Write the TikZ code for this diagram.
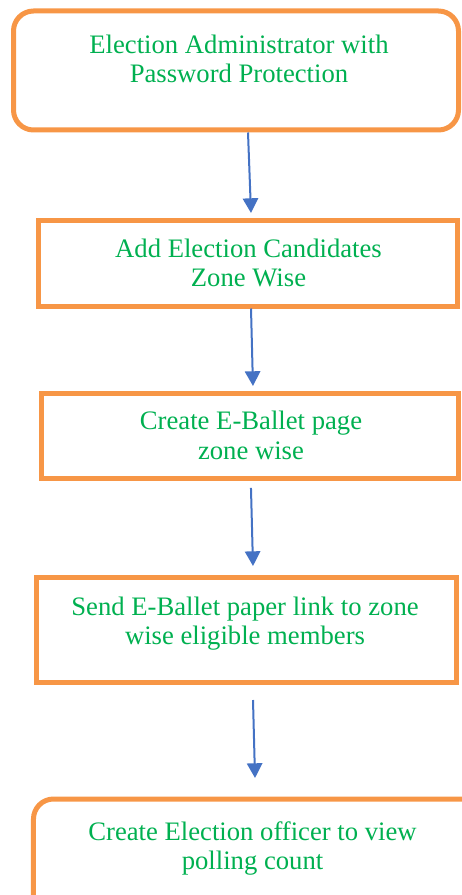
\documentclass[tikz,border=0pt]{standalone}
\usepackage{fontspec}
\setmainfont{Liberation Serif}
\usetikzlibrary{arrows.meta}
\definecolor{boxorange}{HTML}{F79646}
\definecolor{textgreen}{HTML}{00B050}
\definecolor{arrowblue}{HTML}{4472C4}

\begin{document}
\begin{tikzpicture}[x=0.75pt,y=-0.75pt,
    stepbox/.style={draw=boxorange,line width=3.75pt,inner sep=0pt},
    roundbox/.style={stepbox,rounded corners=15pt},
    steptext/.style={text=textgreen,align=center,inner sep=0pt,
      font=\fontsize{20}{22}\selectfont},
    flow/.style={arrowblue,line width=1.5pt,
      -{Triangle[width=11.5pt,length=11pt]}}]
        \useasboundingbox (0,0) rectangle (461,895);
        % the five boxes
        \node[roundbox,minimum width=333.75pt,minimum height=89.25pt] (admin) at (236,70.5) {};
        \node[stepbox,minimum width=314.25pt,minimum height=64.5pt] (cand) at (248,263) {};
        \node[stepbox,minimum width=312.75pt,minimum height=63.75pt] (ballot) at (249.5,435.5) {};
        \node[stepbox,minimum width=315pt,minimum height=78.75pt] (link) at (246,630) {};
        \node[roundbox,minimum width=342.4pt,minimum height=91.5pt] (officer) at (261.75,860) {};
        % texts
        \node[steptext] (admin-t) at (239,59) {Election Administrator with\\Password Protection};
        \node[steptext] (cand-t) at (248.5,263) {Add Election Candidates\\Zone Wise};
        \node[steptext] (ballot-t) at (251,435.5) {Create E-Ballet page\\zone wise};
        \node[steptext] (link-t) at (245,623.3) {Send E-Ballet paper link to zone\\wise eligible members};
        \node[steptext] (officer-t) at (252.5,848.3) {Create Election officer to view\\polling count};
        % arrows
        \draw[flow] ([xshift=9pt]admin.south) -- ([xshift=2.25pt,yshift=3.4pt]cand.north);
        \draw[flow] ([xshift=2.25pt]cand.south) -- ([xshift=2.6pt,yshift=3.4pt]ballot.north);
        \draw[flow] ([xshift=1.1pt,yshift=-5.6pt]ballot.south) -- ([xshift=5.25pt,yshift=6.75pt]link.north);
        \draw[flow] ([xshift=5.25pt,yshift=-11.25pt]link.south) -- ([xshift=-5.05pt,yshift=13.9pt]officer.north);
      \end{tikzpicture}
\end{document}
